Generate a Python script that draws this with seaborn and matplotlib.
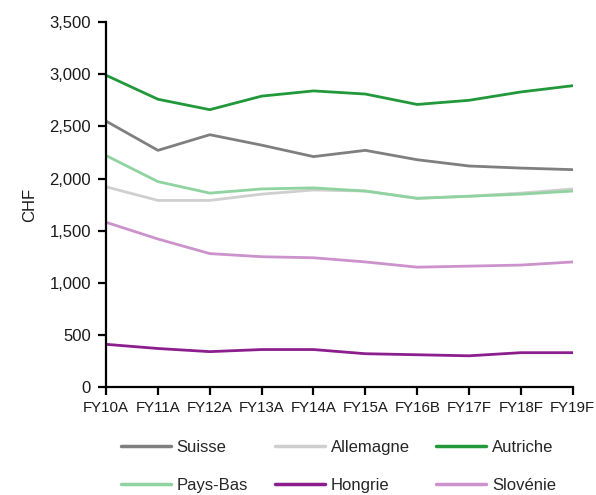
import numpy as np
import pandas as pd
import matplotlib
matplotlib.use("Agg")
import matplotlib.pyplot as plt
import seaborn as sns

years = ["FY10A", "FY11A", "FY12A", "FY13A", "FY14A", "FY15A",
         "FY16B", "FY17F", "FY18F", "FY19F"]
suisse = [2550, 2270, 2420, 2320, 2210, 2270, 2180, 2120, 2100, 2085]
allemagne = [1920, 1790, 1790, 1850, 1890, 1880, 1810, 1830, 1860, 1900]
autriche = [2990, 2760, 2660, 2790, 2840, 2810, 2710, 2750, 2830, 2890]
pays_bas = [2220, 1970, 1860, 1900, 1910, 1880, 1810, 1830, 1850, 1880]
hongrie = [410, 370, 340, 360, 360, 320, 310, 300, 330, 330]
slovenie = [1580, 1420, 1280, 1250, 1240, 1200, 1150, 1160, 1170, 1200]

countries = ["Suisse", "Allemagne", "Autriche", "Pays-Bas", "Hongrie", "Slovénie"]
colors = ["#7f7f7f", "#cfcfcf", "#21993a", "#8fd3a0", "#8c1d8c", "#cc92cc"]
series = [suisse, allemagne, autriche, pays_bas, hongrie, slovenie]

df = pd.DataFrame({
    "year": years * len(countries),
    "idx": list(range(len(years))) * len(countries),
    "pays": [c for c in countries for _ in years],
    "CHF": [v for s in series for v in s],
})

sns.set_theme(style="white")
plt.rcParams["font.family"] = ["Liberation Sans", "DejaVu Sans"]

fig = plt.figure(figsize=(5.96, 4.95), dpi=100)
ax = fig.add_axes([0.178, 0.218, 0.783, 0.7374])

sns.lineplot(data=df, x="idx", y="CHF", hue="pays", hue_order=countries,
             palette=colors, linewidth=2.0, ax=ax, legend=False)

ax.set_xlim(0, len(years) - 1)
ax.set_ylim(0, 3500)
ax.set_xticks(range(len(years)))
ax.set_xticklabels(years)
ax.set_yticks(np.arange(0, 3501, 500))
ax.set_yticklabels([f"{v:,}" for v in range(0, 3501, 500)])
ax.set_xlabel("")
ax.set_ylabel("CHF", fontsize=12, color="#1a1a1a", labelpad=9)

for side in ["top", "right"]:
    ax.spines[side].set_visible(False)
for side in ["left", "bottom"]:
    ax.spines[side].set_color("black")
    ax.spines[side].set_linewidth(1.6)
ax.tick_params(axis="both", direction="out", length=6, width=1.6,
               color="black", labelcolor="#1a1a1a", bottom=True, left=True)
ax.tick_params(axis="x", labelsize=10.8, pad=4)
ax.tick_params(axis="y", labelsize=12, pad=5)

# legend filled row by row: matplotlib fills columns first, so reorder
ncol = 3
order = [0, 3, 1, 4, 2, 5]
handles = [plt.Line2D([], [], color=colors[i], linewidth=2.5) for i in order]
labels = [countries[i] for i in order]
fig.legend(handles, labels, loc="center", bbox_to_anchor=(0.568, 0.058),
           ncol=ncol, frameon=False, fontsize=12, handlelength=3.0,
           handletextpad=0.35, columnspacing=1.6, labelspacing=1.4)

fig.savefig("out.png", dpi=100)
